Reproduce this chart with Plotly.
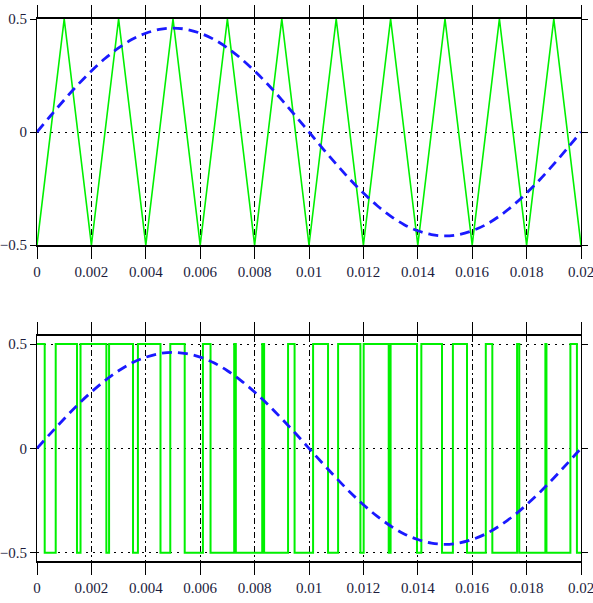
import plotly.graph_objects as go

# ---- data ----
carrier_t = [0, 0.001, 0.002, 0.003, 0.004, 0.005, 0.006, 0.007, 0.008, 0.009, 0.010,
             0.011, 0.012, 0.013, 0.014, 0.015, 0.016, 0.017, 0.018, 0.019, 0.020]
carrier_v = [-0.5, 0.5, -0.5, 0.5, -0.5, 0.5, -0.5, 0.5, -0.5, 0.5, -0.5,
             0.5, -0.5, 0.5, -0.5, 0.5, -0.5, 0.5, -0.5, 0.5, -0.5]

ref_t = [i * 0.0005 for i in range(41)]
ref_v = [0, 0.072, 0.142, 0.209, 0.270, 0.325, 0.372, 0.410, 0.437, 0.454, 0.460,
         0.454, 0.437, 0.410, 0.372, 0.325, 0.270, 0.209, 0.142, 0.072, 0,
         -0.072, -0.142, -0.209, -0.270, -0.325, -0.372, -0.410, -0.437, -0.454, -0.460,
         -0.454, -0.437, -0.410, -0.372, -0.325, -0.270, -0.209, -0.142, -0.072, 0]

pwm_start_level = 0.5
pwm_edges = [0.000283, 0.000688, 0.00147, 0.00160, 0.00255, 0.00265, 0.00353, 0.00371,
             0.00454, 0.00490, 0.00543, 0.00610, 0.00638, 0.00725, 0.00731, 0.00828,
             0.00835, 0.00923, 0.00947, 0.01015, 0.01070, 0.01107, 0.01189, 0.01201,
             0.01293, 0.01300, 0.01397, 0.01413, 0.01489, 0.01529, 0.01581, 0.01650,
             0.01674, 0.01765, 0.01773, 0.01869, 0.01873, 0.01961, 0.01985]
t_end = 0.02

x_ticks = [0, 0.002, 0.004, 0.006, 0.008, 0.01, 0.012, 0.014, 0.016, 0.018, 0.02]
x_ticklabels = ["0", "0.002", "0.004", "0.006", "0.008", "0.01", "0.012", "0.014", "0.016", "0.018", "0.02"]
y_ticks = [-0.5, 0, 0.5]
y_ticklabels = ["\u22120.5", "0", "0.5"]

# build PWM step series from edges
pwm_t = [0]
pwm_v = [pwm_start_level]
lvl = pwm_start_level
for e in pwm_edges:
    lvl = -lvl
    pwm_t.append(e)
    pwm_v.append(lvl)
pwm_t.append(t_end)
pwm_v.append(lvl)

GREEN = "#00f000"
BLUE = "#1a1aff"
FONT = dict(family="Liberation Serif, serif", size=15, color="#1c1c3c")

fig = go.Figure()
fig.add_trace(go.Scatter(x=carrier_t, y=carrier_v, mode="lines",
                         line=dict(color=GREEN, width=1.6), xaxis="x", yaxis="y"))
fig.add_trace(go.Scatter(x=ref_t, y=ref_v, mode="lines",
                         line=dict(color=BLUE, width=2.8, dash="10px,6px", shape="spline"),
                         xaxis="x", yaxis="y"))
fig.add_trace(go.Scatter(x=pwm_t, y=pwm_v, mode="lines",
                         line=dict(color=GREEN, width=2, shape="hv"), xaxis="x2", yaxis="y2"))
fig.add_trace(go.Scatter(x=ref_t, y=ref_v, mode="lines",
                         line=dict(color=BLUE, width=2.8, dash="10px,6px", shape="spline"),
                         xaxis="x2", yaxis="y2"))

xax = dict(range=[0, 0.02], tickvals=x_ticks, ticktext=x_ticklabels,
           showline=True, linecolor="black", linewidth=2, mirror="ticks",
           ticks="outside", ticklen=12, tickwidth=1, tickcolor="black",
           showgrid=True, gridcolor="black", gridwidth=1, griddash="6px,3px,2px,3px",
           zeroline=False, tickfont=FONT, automargin=False, ticklabeloverflow="allow")
yax = dict(tickvals=y_ticks, ticktext=y_ticklabels,
           showline=True, linecolor="black", linewidth=1, mirror="ticks",
           ticks="outside", ticklen=6, tickwidth=1, tickcolor="black",
           showgrid=True, gridcolor="black", gridwidth=1.2, griddash="2px,5px",
           zeroline=False, tickfont=FONT, automargin=False, ticklabeloverflow="allow")

fig.update_layout(
    width=593, height=603,
    margin=dict(l=37, r=12, t=19, b=42),
    paper_bgcolor="white", plot_bgcolor="white",
    showlegend=False,
    xaxis=dict(xax, anchor="y", domain=[0, 1]),
    yaxis=dict(yax, anchor="x", domain=[0.583, 1], range=[-0.5, 0.5]),
    xaxis2=dict(xax, anchor="y2", domain=[0, 1]),
    yaxis2=dict(yax, anchor="x2", domain=[0, 0.4157], range=[-0.54, 0.54]),
)

fig.write_html("out.html", config={"displayModeBar": False},
               post_script="document.body.style.margin='0';document.body.style.overflow='hidden';")
